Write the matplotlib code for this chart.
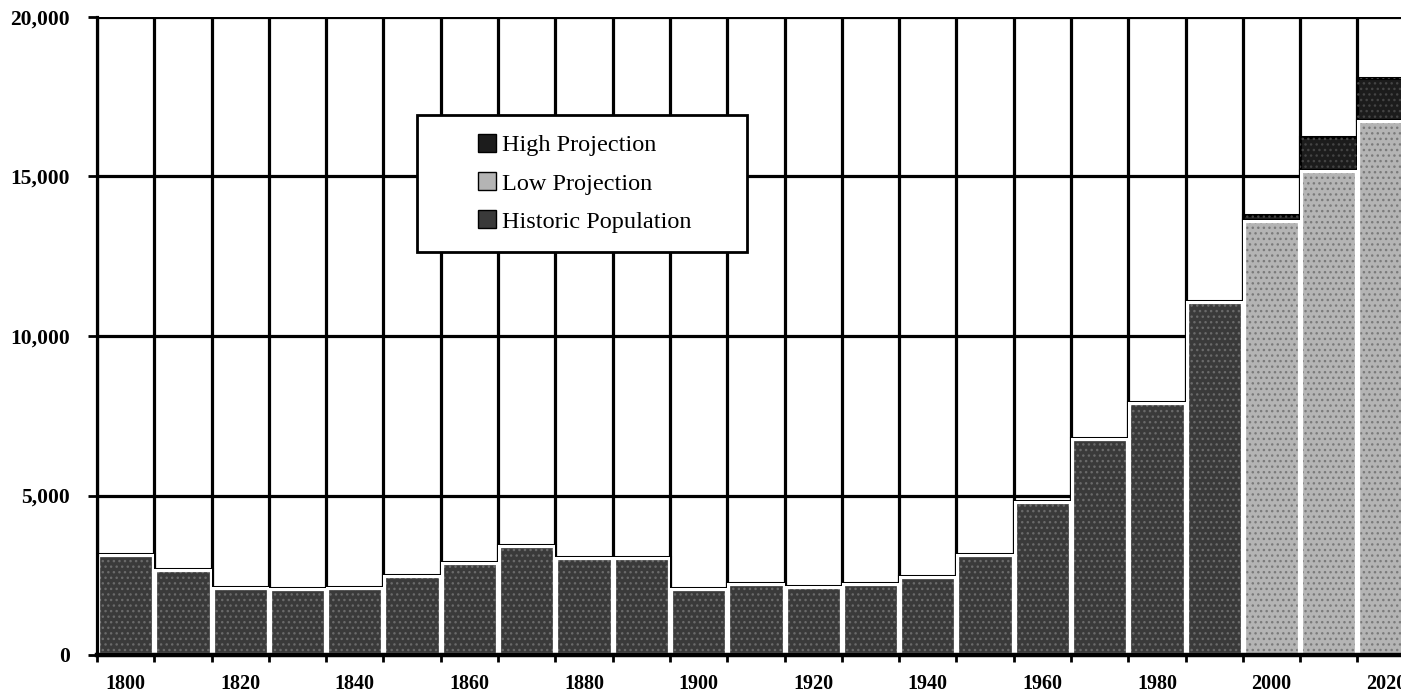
import matplotlib
matplotlib.use("Agg")
import matplotlib.pyplot as plt
from matplotlib.patches import Patch, Rectangle
import numpy as np

# data
hist_years = [1800, 1810, 1820, 1830, 1840, 1850, 1860, 1870, 1880, 1890,
              1900, 1910, 1920, 1930, 1940, 1950, 1960, 1970, 1980, 1990]
historic = [3170, 2700, 2130, 2100, 2130, 2510, 2910, 3450, 3070, 3070,
            2100, 2260, 2160, 2260, 2480, 3170, 4830, 6800, 7930, 11100]
proj_years = [2000, 2010, 2020]
low_proj = [13640, 15200, 16770]
high_proj = [13790, 16240, 18090]
label_years = [1800, 1820, 1840, 1860, 1880, 1900, 1920, 1940, 1960, 1980, 2000, 2020]

c_hist = '#3a3a3a'
c_low = '#b4b4b4'
c_high = '#1c1c1c'

plt.rcParams['font.family'] = ['Liberation Serif', 'DejaVu Serif']
plt.rcParams['hatch.linewidth'] = 1.0

fig = plt.figure(figsize=(14.01, 6.96), dpi=100)
ax = fig.add_axes([97 / 1401, 41 / 696, 1304 / 1401, 638 / 696])


def bars(x, h, bottom, color, dots, inner=True):
    outer = ax.bar(x, h, width=10, bottom=bottom, color=color,
                   edgecolor='black', linewidth=2.2, zorder=2)
    # speckle texture like the scanned stipple
    tex = ax.bar(x, h, width=10, bottom=bottom, color='none',
                 edgecolor=dots, linewidth=0, hatch='...', zorder=2.05)
    for o, t in zip(outer, tex):
        t.set_clip_path(o)
    if inner:
        # white rim just inside the black outline
        rim = ax.bar(x, h, width=10, bottom=bottom, color='none',
                     edgecolor='white', linewidth=3.8, zorder=2.1)
        for o, r in zip(outer, rim):
            r.set_clip_path(o)
    return outer


bars(hist_years, historic, 0, c_hist, '#6a6a6a')
bars(proj_years, low_proj, 0, c_low, '#7a7a7a')
bars(proj_years, np.array(high_proj) - np.array(low_proj), low_proj, c_high, '#444444', inner=False)

bounds = np.arange(1795, 2030, 10)
ax.set_xticks(bounds)
ax.set_xticklabels([])
ax.set_xticks(label_years, minor=True)
ax.set_xticklabels([str(y) for y in label_years], minor=True)
ax.tick_params(axis='x', which='major', direction='out', length=5, width=2)
ax.tick_params(axis='x', which='minor', length=0, pad=14, labelsize=14.5)
for t in ax.get_xticklabels(minor=True):
    t.set_fontweight('bold')

ax.set_yticks(np.arange(0, 20001, 5000))
ax.set_yticklabels([f'{v:,}' for v in range(0, 20001, 5000)])
ax.tick_params(axis='y', direction='out', length=6.5, width=2, pad=13, labelsize=15.5)
for t in ax.get_yticklabels():
    t.set_fontweight('bold')

ax.set_xlim(1795, 2022.6)
ax.set_ylim(0, 20000)

ax.set_axisbelow(True)
ax.grid(True, which='major', color='black', linewidth=2.3)

for side in ['top', 'right']:
    ax.spines[side].set_visible(False)
ax.spines['left'].set_linewidth(2.3)
ax.spines['bottom'].set_linewidth(3.2)

# legend box drawn as a plain rectangle, entries centred inside it
box = Rectangle((0.2454, 0.6317), 0.2531, 0.2147, transform=ax.transAxes,
                facecolor='white', edgecolor='black', linewidth=2, zorder=5)
ax.add_patch(box)
handles = [Patch(facecolor=c_high, edgecolor='black'),
           Patch(facecolor=c_low, edgecolor='black'),
           Patch(facecolor=c_hist, edgecolor='black')]
leg = ax.legend(handles, ['High Projection', 'Low Projection', 'Historic Population'],
                loc='center', bbox_to_anchor=(0.2454 + 0.2531 / 2 + 0.002, 0.6317 + 0.2147 / 2),
                fontsize=17.5, frameon=False, borderpad=0,
                handlelength=0.75, handleheight=0.75, handletextpad=0.25,
                labelspacing=0.65, borderaxespad=0)
leg.set_zorder(6)

fig.savefig('out.png', dpi=100)
